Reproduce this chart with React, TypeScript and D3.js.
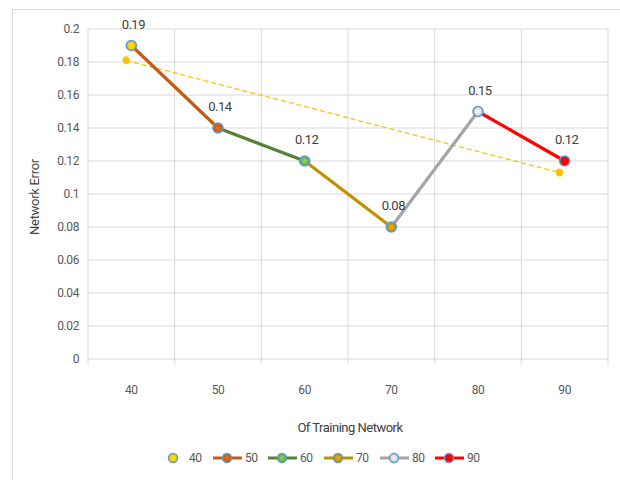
import React from "react";
import * as d3 from "d3";

const categories = ["40", "50", "60", "70", "80", "90"];
const errors = [0.19, 0.14, 0.12, 0.08, 0.15, 0.12];
const segmentColors = ["#C55A11", "#548235", "#BF9000", "#A5A5A5", "#FF0000"];
const markerFills = ["#FFC000", "#C55A11", "#70AD47", "#BF9000", "#D0D0D0", "#FF0000"];
const trendValues = [0.181, 0.113];
const yTicks = [0, 0.02, 0.04, 0.06, 0.08, 0.1, 0.12, 0.14, 0.16, 0.18, 0.2];
const legendLabels = ["40", "50", "60", "70", "80", "90"];

const W = 620, H = 480;
const M = { left: 88, right: 608, top: 29, bottom: 359 };
const FONT = "Roboto, 'Liberation Sans', sans-serif";
const TXT = "#595959";

export default function App() {
  const x = d3.scaleBand<string>().domain(categories).range([M.left, M.right]);
  const cx = (c: string) => (x(c) as number) + x.bandwidth() / 2;
  const y = d3.scaleLinear().domain([0, 0.2]).range([M.bottom, M.top]);
  const line = d3.line<[number, number]>().x(d => d[0]).y(d => d[1]);
  const trendOffset = -x.bandwidth() * 0.06;
  const trendPts: [number, number][] = [
    [cx(categories[0]) + trendOffset, y(trendValues[0])],
    [cx(categories[categories.length - 1]) + trendOffset, y(trendValues[1])],
  ];
  const gridX = [...categories.map(c => x(c) as number), M.right];

  const Marker = ({ px, py, fill, id }: { px: number; py: number; fill: string; id: string }) => (
    <g>
      <circle cx={px} cy={py} r={5} fill={`url(#${id})`} stroke="#5B9BD5" strokeWidth={1.6} />
    </g>
  );

  const legendX = [173, 227, 282, 338, 394, 449];

  return (
    <svg width={W} height={H} style={{ position: "absolute", left: 0, top: 0, background: "#fff" }}
      fontFamily={FONT}>
      <defs>
        {markerFills.map((f, i) => (
          <radialGradient key={i} id={`mg${i}`} cx="0.5" cy="0.5" r="0.6">
            <stop offset="0%" stopColor={d3.color(f)!.brighter(0.6).formatHex()} />
            <stop offset="70%" stopColor={f} />
            <stop offset="100%" stopColor={d3.color(f)!.darker(0.4).formatHex()} />
          </radialGradient>
        ))}
      </defs>
      <rect x={12.5} y={9.5} width={W} height={H} fill="#fff" stroke="#D9D9D9" strokeWidth={1} />
      {/* horizontal grid */}
      {yTicks.map(t => (
        <line key={t} x1={M.left} x2={M.right} y1={y(t)} y2={y(t)} stroke="#D9D9D9" strokeWidth={1} />
      ))}
      {/* vertical grid */}
      {gridX.map((gx, i) => (
        <line key={i} x1={gx} x2={gx} y1={M.top} y2={M.bottom + 5} stroke="#D9D9D9" strokeWidth={1} />
      ))}
      {/* y tick labels */}
      {yTicks.map(t => (
        <text key={t} x={79} y={y(t)} dy="0.35em" textAnchor="end" fontSize={12} fill={TXT} letterSpacing={-0.4}>
          {d3.format("~g")(t)}
        </text>
      ))}
      {/* x tick labels */}
      {categories.map(c => (
        <text key={c} x={cx(c)} y={394} textAnchor="middle" fontSize={12} fill={TXT} letterSpacing={-0.4}>{c}</text>
      ))}
      {/* axis titles */}
      <text transform={`translate(39,197) rotate(-90)`} textAnchor="middle" fontSize={13} fill="#404040" letterSpacing={-0.3}>
        Network Error
      </text>
      <text x={350} y={432} textAnchor="middle" fontSize={13} fill="#404040" letterSpacing={-0.5}>
        Of Training Network
      </text>
      {/* trend line */}
      <path d={line(trendPts) as string} fill="none" stroke="#FFC000" strokeWidth={1.3} strokeDasharray="5,3" />
      {trendPts.map((p, i) => (
        <ellipse key={i} cx={p[0]} cy={p[1]} rx={3.5} ry={4} fill="#FFC000" />
      ))}
      {/* segments */}
      {segmentColors.map((col, i) => (
        <path key={i}
          d={line([[cx(categories[i]), y(errors[i])], [cx(categories[i + 1]), y(errors[i + 1])]]) as string}
          fill="none" stroke={col} strokeWidth={3.2} />
      ))}
      {/* markers */}
      {categories.map((c, i) => (
        <Marker key={c} px={cx(c)} py={y(errors[i])} fill={markerFills[i]} id={`mg${i}`} />
      ))}
      {/* data labels */}
      {categories.map((c, i) => (
        <text key={c} x={cx(c) + 2} y={y(errors[i]) - 17} textAnchor="middle" fontSize={13} fill="#404040" letterSpacing={-0.5}>
          {d3.format("~g")(errors[i])}
        </text>
      ))}
      {/* legend */}
      {legendLabels.map((l, i) => (
        <g key={l}>
          {i > 0 && (
            <line x1={legendX[i] - 14} x2={legendX[i] + 15} y1={458} y2={458} stroke={segmentColors[i - 1]} strokeWidth={3} />
          )}
          <circle cx={legendX[i]} cy={458} r={4.5} fill={`url(#mg${i})`} stroke="#5B9BD5" strokeWidth={1.4} />
          <text x={i === 0 ? 189 : legendX[i] + 18} y={458} dy="0.35em" fontSize={12} fill={TXT} letterSpacing={-0.4}>{l}</text>
        </g>
      ))}
    </svg>
  );
}
